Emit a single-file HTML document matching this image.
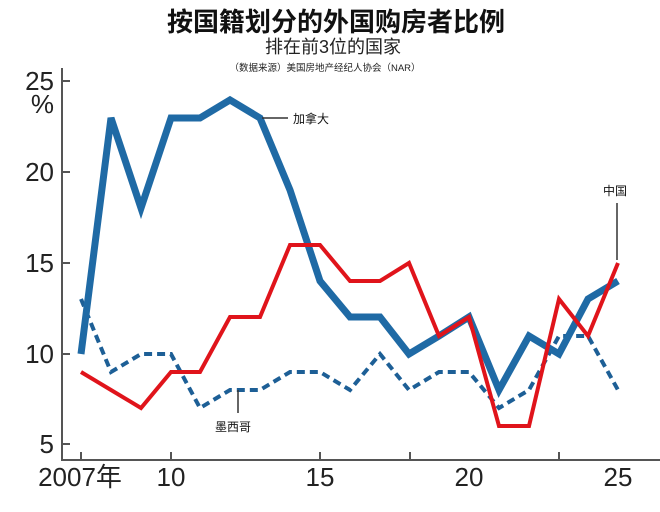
<!DOCTYPE html>
<html><head><meta charset="utf-8"><style>
html,body{margin:0;padding:0;background:#fff;}
svg{display:block;font-family:"Liberation Sans","Noto Sans CJK SC",sans-serif;}
</style></head><body>
<svg width="660" height="512" viewBox="0 0 660 512">
<text x="336" y="31" text-anchor="middle" font-size="26" font-weight="bold" fill="#111">按国籍划分的外国购房者比例</text>
<text x="333" y="53" text-anchor="middle" font-size="18" fill="#222">排在前3位的国家</text>
<text x="325" y="71" text-anchor="middle" font-size="9.5" fill="#222">（数据来源）美国房地产经纪人协会（NAR）</text>
<g stroke="#555" stroke-width="2" fill="none">
<line x1="62" y1="68" x2="62" y2="461"/>
<line x1="61" y1="460" x2="660" y2="460"/>
<line x1="62" y1="81" x2="70" y2="81"/>
<line x1="62" y1="172" x2="70" y2="172"/>
<line x1="62" y1="263" x2="70" y2="263"/>
<line x1="62" y1="354" x2="70" y2="354"/>
<line x1="62" y1="444" x2="70" y2="444"/>
<line x1="81" y1="460" x2="81" y2="452"/>
<line x1="171" y1="460" x2="171" y2="452"/>
<line x1="320" y1="460" x2="320" y2="452"/>
<line x1="410" y1="460" x2="410" y2="452"/>
<line x1="559" y1="460" x2="559" y2="452"/>
</g>
<g font-size="26" fill="#222" text-anchor="end">
<text x="54" y="90">25</text>
<text x="54" y="113">%</text>
<text x="54" y="181">20</text>
<text x="54" y="272">15</text>
<text x="54" y="363">10</text>
<text x="54" y="453">5</text>
</g>
<g font-size="26" fill="#222" text-anchor="middle">
<text x="80" y="486">2007年</text>
<text x="171" y="486">10</text>
<text x="320" y="486">15</text>
<text x="469" y="486">20</text>
<text x="618" y="486">25</text>
</g>
<polyline fill="none" stroke="#1d5f96" stroke-width="4" stroke-dasharray="8,5" points="81,299 111,372 141,354 171,354 200,408 230,390 260,390 290,372 320,372 350,390 380,354 409,390 439,372 469,372 499,408 529,390 559,336 588,336 618,390"/>
<polyline fill="none" stroke="#1f6aa5" stroke-width="7" stroke-linejoin="miter" points="81,354 111,118 141,208 171,118 200,118 230,100 260,118 290,190 320,281 350,317 380,317 409,354 439,336 469,317 499,390 529,336 559,354 588,299 618,281"/>
<polyline fill="none" stroke="#e0141b" stroke-width="4" points="81,372 111,390 141,408 171,372 200,372 230,317 260,317 290,245 320,245 350,281 380,281 409,263 439,336 469,317 499,426 529,426 559,299 588,336 618,263"/>
<g stroke="#333" stroke-width="1.5">
<line x1="262" y1="118" x2="288" y2="118"/>
<line x1="617" y1="203" x2="617" y2="260"/>
<line x1="238" y1="390" x2="238" y2="413"/>
</g>
<g font-size="12" fill="#111">
<text x="293" y="123">加拿大</text>
<text x="603" y="195">中国</text>
<text x="215" y="431">墨西哥</text>
</g>
</svg>
</body></html>
